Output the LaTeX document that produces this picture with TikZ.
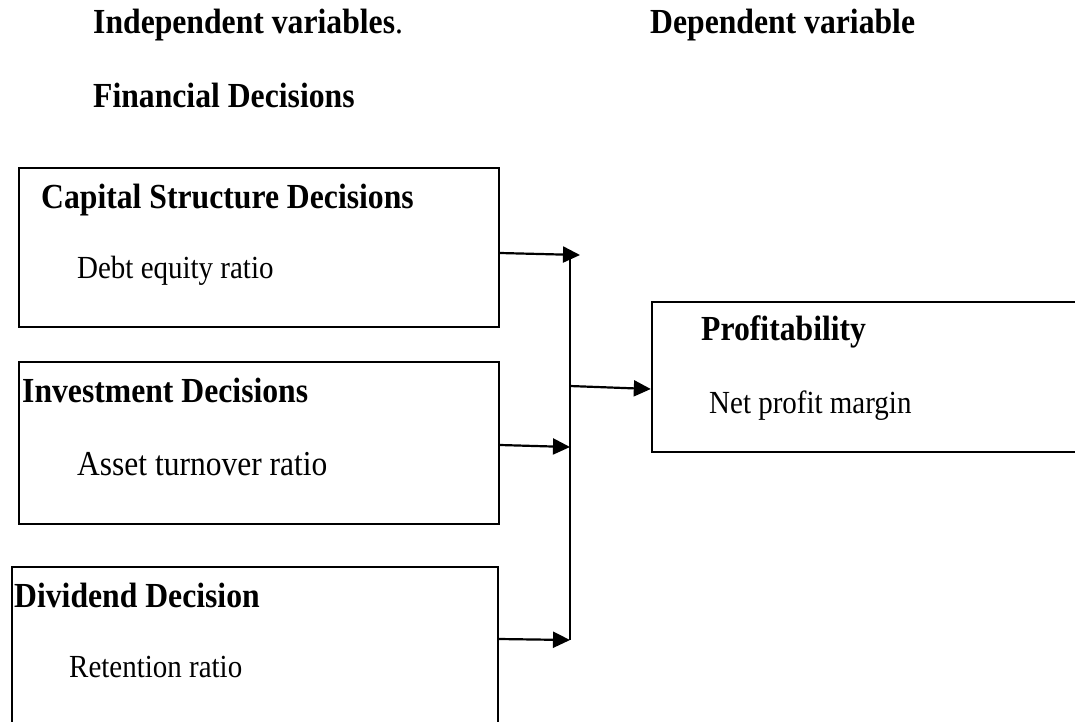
\documentclass[tikz,border=0pt]{standalone}
\usepackage{fontspec}
\setmainfont[FakeStretch=0.9]{Liberation Serif}
\usetikzlibrary{arrows.meta}
\begin{document}
\begin{tikzpicture}[x=1pt,y=-1pt,
  box/.style={draw, line width=2.4pt, rectangle, inner sep=0pt},
  hd/.style={anchor=base west, inner sep=0pt, font=\fontsize{35.2}{40}\selectfont\bfseries},
  sub/.style={anchor=base west, inner sep=0pt, font=\fontsize{32.2}{38}\selectfont},
  arr/.style={line width=2.2pt, -{Triangle[length=17pt,width=16pt]}},
  ln/.style={line width=2.2pt}]
\clip (0,0) rectangle (1075,721);
\fill[white] (0,0) rectangle (1075,721);
% headings
\node[hd] (indep) at (93,33) {Independent variables\textmd{.}};
\node[hd] (dep) at (650,33) {Dependent variable};
\node[hd] (fin) at (93,107) {Financial Decisions};
% boxes
\node[box, minimum width=480pt, minimum height=159pt] (box1) at (259,247.5) {};
\node[box, minimum width=480pt, minimum height=162pt] (box2) at (259,443) {};
\node[box, minimum width=486pt, minimum height=193pt] (box3) at (255,663.5) {};
\node[box, minimum width=448pt, minimum height=150pt] (box4) at (876,377) {};
% box texts
\node[hd] (t1) at (41,208) {Capital Structure Decisions};
\node[sub] (s1) at (77,278) {Debt equity ratio};
\node[hd] (t2) at (22,402) {Investment Decisions};
\node[sub, font=\fontsize{35}{40}\selectfont] (s2) at (77,475) {Asset turnover ratio};
\node[hd] (t3) at (14,607) {Dividend Decision};
\node[sub] (s3) at (69,677) {Retention ratio};
\node[hd] (t4) at (701,340) {Profitability};
\node[sub] (s4) at (709,413) {Net profit margin};
% connectors
\coordinate (j1) at (580,255);
\coordinate (j2) at (570,447);
\coordinate (j3) at (570,640);
\coordinate (vtop) at (570,257);
\coordinate (jm) at (570,386);
\draw[ln] (vtop) -- (j3);
\draw[arr] ([yshift=-5.5pt]box1.east) -- (j1);
\draw[arr] ([yshift=-2pt]box2.east) -- (j2);
\draw[arr] ([yshift=24.5pt]box3.east) -- (j3);
\draw[arr] (jm) -- ([yshift=-12pt]box4.west);
\end{tikzpicture}
\end{document}
